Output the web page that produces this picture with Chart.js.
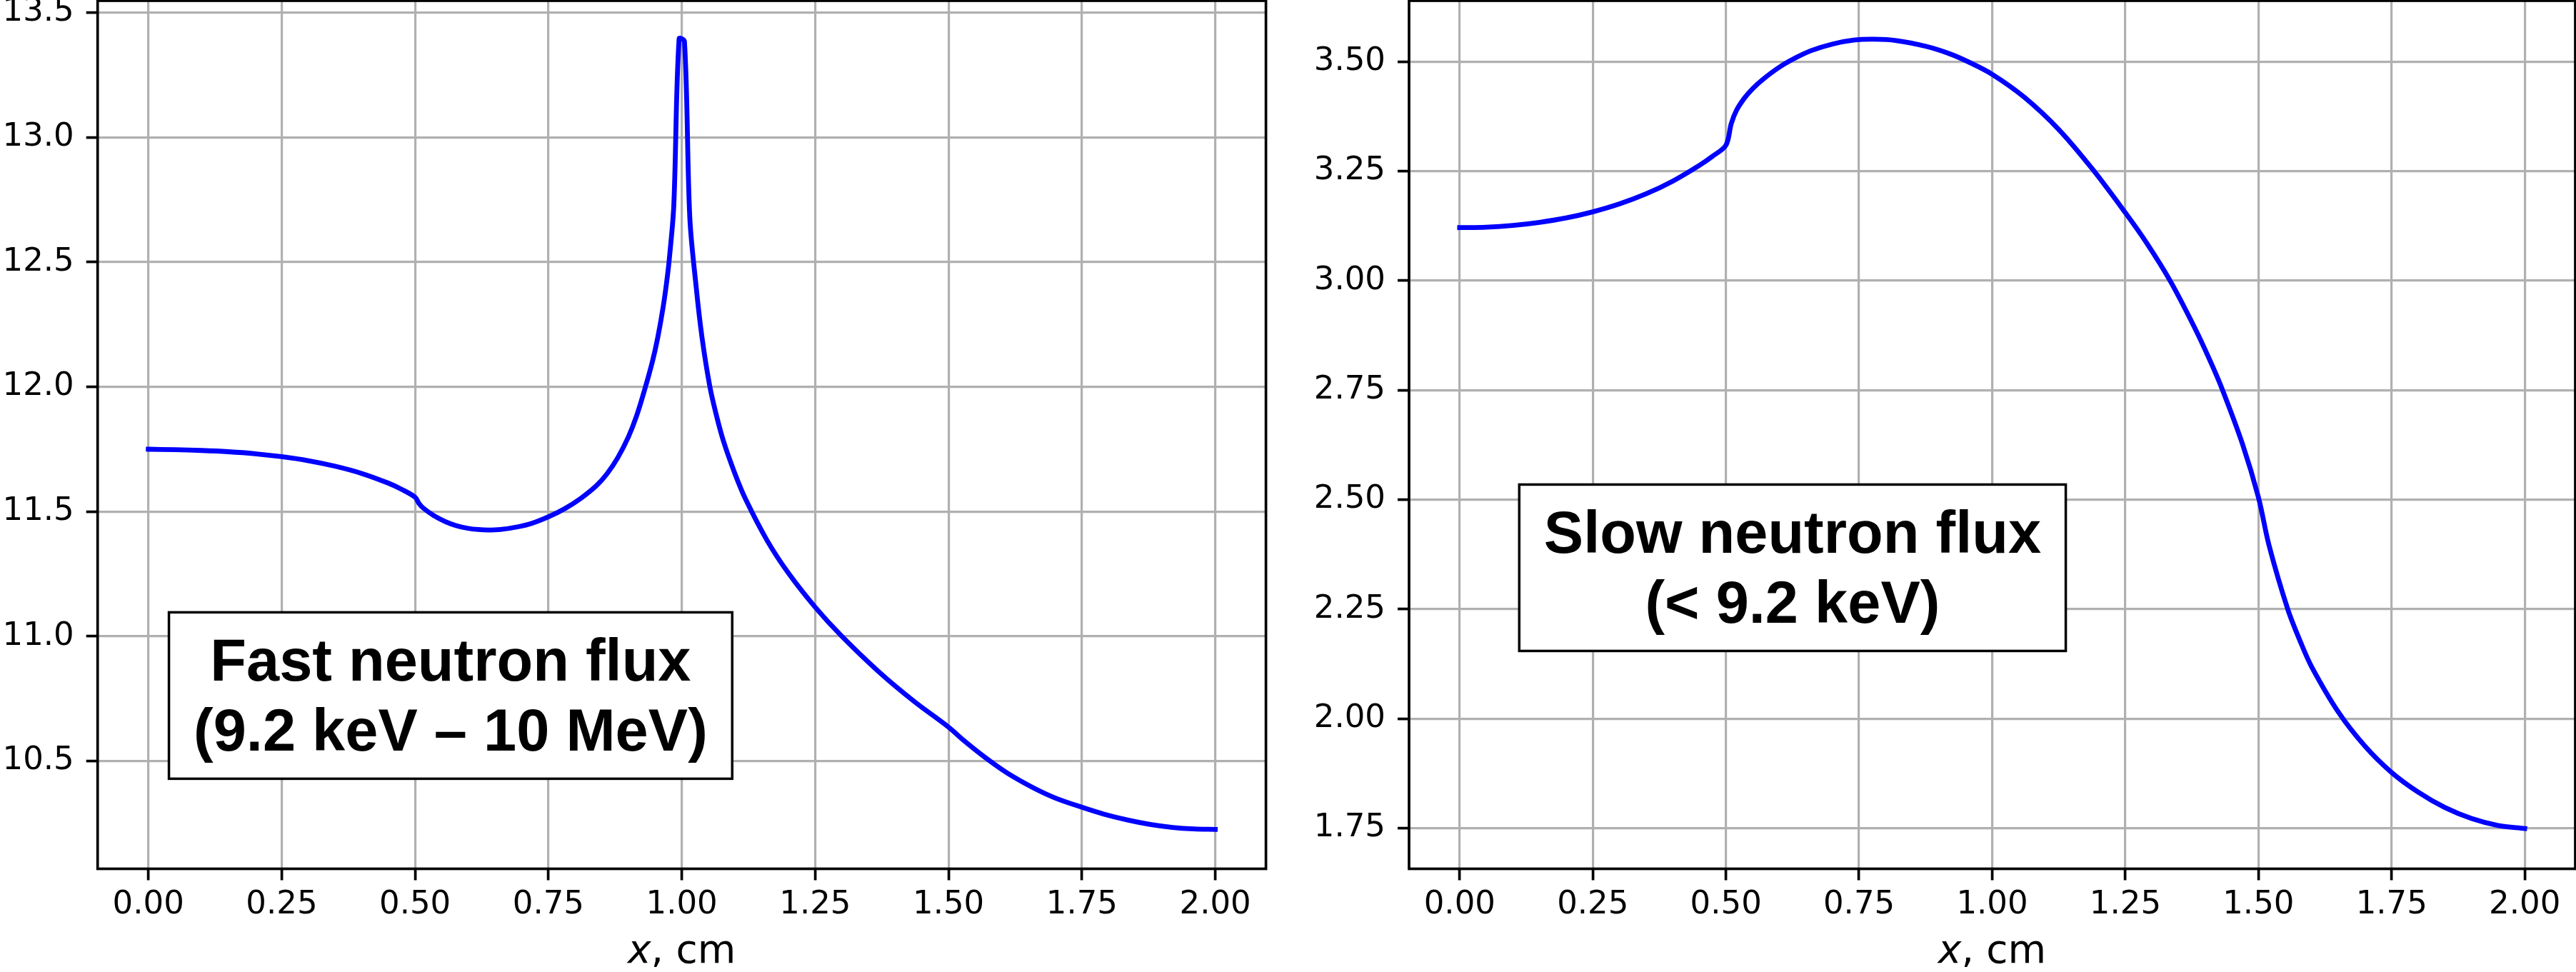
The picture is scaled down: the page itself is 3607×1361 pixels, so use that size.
<!DOCTYPE html>
<html>
<head>
<meta charset="utf-8">
<script src="https://cdn.jsdelivr.net/npm/chart.js@4.4.1/dist/chart.umd.min.js"></script>
<style>
  body { margin: 0; width: 3607px; height: 1361px; background: #fff; position: relative; overflow: hidden; }
  canvas { position: absolute; top: 0; }
</style>
</head>
<body>
<canvas id="fastChart" width="1800" height="1361" style="left:0px"></canvas>
<canvas id="slowChart" width="1807" height="1361" style="left:1800px"></canvas>
<script>
// fast neutron flux (left panel)
var xFast = [0, 0.05, 0.1, 0.15, 0.2, 0.25, 0.3, 0.35, 0.4, 0.45, 0.475, 0.5, 0.507, 0.5144, 0.535, 0.5567,
  0.577, 0.5991, 0.618, 0.637, 0.66, 0.69, 0.72, 0.75, 0.78, 0.81, 0.84, 0.86, 0.88, 0.9, 0.915, 0.93,
  0.945, 0.955, 0.965, 0.972, 0.977, 0.985, 0.995, 1.005, 1.015, 1.027, 1.038, 1.0527, 1.065, 1.0785, 1.1,
  1.12, 1.16, 1.2, 1.25, 1.3, 1.3687, 1.4356, 1.5, 1.53, 1.5694, 1.61, 1.6587, 1.7, 1.751, 1.79, 1.837,
  1.88, 1.92, 1.96, 2.0]
var yFast = [11.750, 11.748, 11.745, 11.740, 11.732, 11.720, 11.704, 11.682, 11.653, 11.614, 11.589, 11.558,
  11.534, 11.516, 11.484, 11.460, 11.444, 11.433, 11.428, 11.426, 11.428, 11.438, 11.454, 11.479, 11.511,
  11.552, 11.604, 11.652, 11.716, 11.800, 11.882, 11.986, 12.102, 12.198, 12.319, 12.426, 12.521, 12.726,
  13.395, 13.385, 12.680, 12.400, 12.197, 12.000, 11.885, 11.780, 11.650, 11.548, 11.384, 11.253, 11.117,
  11.000, 10.859, 10.739, 10.636, 10.580, 10.513, 10.452, 10.393, 10.352, 10.314, 10.288, 10.263, 10.245,
  10.234, 10.228, 10.226]

// slow neutron flux (right panel)
var xSlow = [0, 0.05, 0.1, 0.15, 0.2, 0.25, 0.3, 0.35, 0.4, 0.45, 0.475, 0.5, 0.51, 0.52, 0.535, 0.55, 0.57,
  0.6, 0.63, 0.66, 0.7, 0.74, 0.778, 0.82, 0.875, 0.92, 0.956, 1.0, 1.06, 1.125, 1.188, 1.25, 1.29, 1.334,
  1.38, 1.41, 1.432, 1.47, 1.5, 1.52, 1.555, 1.58, 1.6, 1.65, 1.7, 1.75, 1.8, 1.85, 1.9, 1.95, 2.0]
var ySlow = [3.121, 3.122, 3.126, 3.133, 3.143, 3.157, 3.175, 3.198, 3.227, 3.263, 3.284, 3.309, 3.358, 3.389,
  3.417, 3.438, 3.460, 3.487, 3.508, 3.525, 3.540, 3.549, 3.551, 3.548, 3.535, 3.518, 3.499, 3.471, 3.419,
  3.345, 3.255, 3.155, 3.086, 3.000, 2.893, 2.815, 2.752, 2.627, 2.505, 2.395, 2.250, 2.172, 2.118, 2.015,
  1.937, 1.877, 1.832, 1.797, 1.772, 1.756, 1.749]

var xTicks = [0, 0.25, 0.5, 0.75, 1.0, 1.25, 1.5, 1.75, 2.0]
var yTicksFast = [10.5, 11.0, 11.5, 12.0, 12.5, 13.0, 13.5]
var yTicksSlow = [1.75, 2.0, 2.25, 2.5, 2.75, 3.0, 3.25, 3.5]

var fastText = ['Fast neutron flux', '(9.2 keV \u2013 10 MeV)']
var slowText = ['Slow neutron flux', '(< 9.2 keV)']

var tickFont = { family: 'DejaVu Sans', size: 45 }

// frame, x label (italic x) and the text box
var extras = {
  id: 'extras',
  afterDatasetsDraw: function(chart, args, opts) {
    var ctx = chart.ctx
    var a = chart.chartArea
    ctx.save()
    ctx.strokeStyle = '#000'
    ctx.lineWidth = 3.7
    ctx.strokeRect(a.left, a.top, a.right - a.left, a.bottom - a.top)

    // axis title "x, cm"
    ctx.fillStyle = '#000'
    ctx.textBaseline = 'alphabetic'
    ctx.font = 'italic 55px "DejaVu Sans"'
    var w1 = ctx.measureText('x').width
    ctx.font = '55px "DejaVu Sans"'
    var w2 = ctx.measureText(', cm').width
    var cx = (a.left + a.right) / 2
    var x0 = cx - (w1 + w2) / 2
    ctx.font = 'italic 55px "DejaVu Sans"'
    ctx.textAlign = 'left'
    ctx.fillText('x', x0, 1348)
    ctx.font = '55px "DejaVu Sans"'
    ctx.fillText(', cm', x0 + w1, 1348)

    // boxed label
    ctx.font = 'bold 83px "Liberation Sans"'
    var tw = 0
    opts.lines.forEach(function(l) { tw = Math.max(tw, ctx.measureText(l).width) })
    var bw = tw + 69
    var bh = 233
    var bx = a.left + opts.fx * (a.right - a.left)
    var by = a.top + opts.fy * (a.bottom - a.top)
    ctx.fillStyle = '#fff'
    ctx.fillRect(bx - bw / 2, by - bh / 2, bw, bh)
    ctx.lineWidth = 3.5
    ctx.strokeRect(bx - bw / 2, by - bh / 2, bw, bh)
    ctx.fillStyle = '#000'
    ctx.textAlign = 'center'
    ctx.fillText(opts.lines[0], bx, by - 21)
    ctx.fillText(opts.lines[1], bx, by + 77)
    ctx.restore()
  }
}

function makeChart(id, xs, ys, yTicks, yMin, yMax, digits, yWidth, padRight, lines, fx, fy) {
  var ctx = document.getElementById(id).getContext('2d')
  return new Chart(ctx, {
    type: 'line',
    data: {
      datasets: [{
        data: xs.map(function(x, i) { return { x: x, y: ys[i] } }),
        borderColor: '#0000ff',
        borderWidth: 6.8,
        pointRadius: 0,
        fill: false,
        tension: 0.33,
        borderJoinStyle: 'round',
        borderCapStyle: 'square'
      }]
    },
    options: {
      responsive: false,
      animation: false,
      events: [],
      layout: { padding: { top: 1, right: padRight, left: 0, bottom: 0 } },
      plugins: {
        legend: { display: false },
        tooltip: { enabled: false },
        extras: { lines: lines, fx: fx, fy: fy }
      },
      scales: {
        x: {
          type: 'linear',
          min: -0.095,
          max: 2.095,
          afterBuildTicks: function(s) { s.ticks = xTicks.map(function(v) { return { value: v } }) },
          afterFit: function(s) { s.height = 144.5; s.paddingLeft = 0; s.paddingRight = 0 },
          border: { display: false },
          grid: { color: '#b0b0b0', lineWidth: 3.2, tickColor: '#000', tickLength: 16, tickWidth: 3.7 },
          ticks: {
            color: '#000', font: tickFont, padding: 8, maxRotation: 0, autoSkip: false,
            callback: function(v) { return v.toFixed(2) }
          }
        },
        y: {
          min: yMin,
          max: yMax,
          afterBuildTicks: function(s) { s.ticks = yTicks.map(function(v) { return { value: v } }) },
          afterFit: function(s) { s.width = yWidth; s.paddingTop = 0; s.paddingBottom = 0 },
          border: { display: false },
          grid: { color: '#b0b0b0', lineWidth: 3.2, tickColor: '#000', tickLength: 16, tickWidth: 3.7 },
          ticks: {
            color: '#000', font: tickFont, padding: 17, autoSkip: false,
            callback: function(v) { return v.toFixed(digits) }
          }
        }
      }
    },
    plugins: [extras]
  })
}

makeChart('fastChart', xFast, yFast, yTicksFast, 10.068, 13.548, 1, 136.7, 27.4, fastText, 0.3021, 0.8004)
makeChart('slowChart', xSlow, ySlow, yTicksSlow, 1.657, 3.639, 2, 173, 1, slowText, 0.3288, 0.6532)
</script>
</body>
</html>
